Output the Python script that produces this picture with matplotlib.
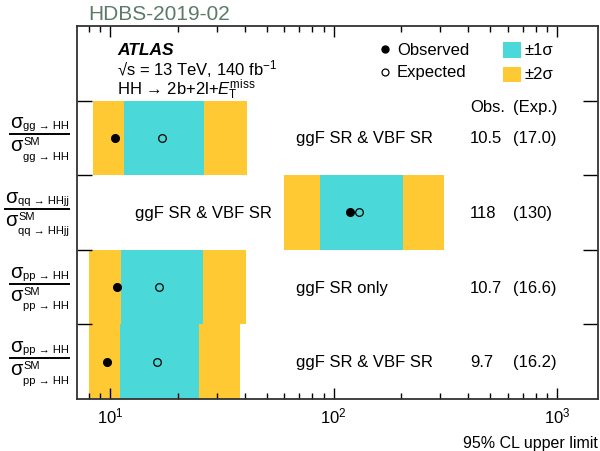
import numpy as np
import matplotlib
matplotlib.use("Agg")
import matplotlib.pyplot as plt
from matplotlib.patches import Rectangle
from matplotlib.transforms import blended_transform_factory, offset_copy

plt.rcParams['font.family'] = ['Liberation Sans', 'DejaVu Sans']
plt.rcParams['mathtext.fontset'] = 'custom'
plt.rcParams['mathtext.rm'] = 'Liberation Sans'
plt.rcParams['mathtext.it'] = 'Liberation Sans:italic'
plt.rcParams['mathtext.bf'] = 'Liberation Sans:bold'
plt.rcParams['mathtext.default'] = 'regular'

# rows from top to bottom
procs = ['gg → HH', 'qq → HHjj', 'pp → HH', 'pp → HH']
regions = ['ggF SR & VBF SR', 'ggF SR & VBF SR', 'ggF SR only', 'ggF SR & VBF SR']
obs = [10.5, 118, 10.7, 9.7]
exp = [17.0, 130, 16.6, 16.2]
obs_txt = ['10.5', '118', '10.7', '9.7']
exp_txt = ['(17.0)', '(130)', '(16.6)', '(16.2)']
m2 = [8.4, 60, 8.05, 8.05]
m1 = [11.5, 87, 11.2, 11.1]
p1 = [26.3, 205, 26.1, 25.0]
p2 = [41, 312, 40.5, 38.2]
ypos = [3.5, 2.5, 1.5, 0.5]

cyan = '#4ad8d8'
yellow = '#ffc933'
fs = 12

fig = plt.figure(figsize=(6, 4.52), dpi=100)
ax = fig.add_axes([77/600, 1-400/452, 521/600, 373/452])

for i in range(len(ypos)):
    ax.barh(ypos[i], p2[i]-m2[i], left=m2[i], height=1.0, color=yellow, lw=0, zorder=1)
    ax.barh(ypos[i], p1[i]-m1[i], left=m1[i], height=1.0, color=cyan, lw=0, zorder=1.1)
ax.plot(obs, ypos, 'o', color='k', ms=5.5, zorder=3)
ax.plot(exp, ypos, 'o', mfc='none', mec='k', mew=0.9, ms=5.5, zorder=3)

ax.set_xscale('log')
ax.set_xlim(7.1, 1520)
ax.set_ylim(0, 5)
ax.set_yticks([1, 2, 3, 4])
ax.set_yticklabels([])
ax.tick_params(axis='y', which='both', direction='in', left=True, right=True, length=11, width=1)
ax.tick_params(axis='x', which='major', direction='in', top=True, bottom=True, length=8, width=1, labelsize=fs, pad=5)
ax.tick_params(axis='x', which='minor', direction='in', top=True, bottom=True, length=4, width=1)
for s in ax.spines.values():
    s.set_linewidth(1.3)
    s.set_color('#333333')

ax.set_xlabel('95% CL upper limit', fontsize=11.5, loc='right', va='top')
ax.xaxis.set_label_coords(1.0, -0.097)

# row texts
tr = blended_transform_factory(ax.transAxes, ax.transData)
for i in range(len(ypos)):
    xr = 0.111 if i == 1 else 0.420
    ax.text(xr, ypos[i], regions[i], transform=tr, fontsize=fs, va='center', ha='left')
    ax.text(0.754, ypos[i], obs_txt[i], transform=tr, fontsize=fs, va='center', ha='left')
    ax.text(0.837, ypos[i], exp_txt[i], transform=tr, fontsize=fs, va='center', ha='left')
ax.text(0.754, 0.783, 'Obs.', transform=ax.transAxes, fontsize=fs, va='center')
ax.text(0.837, 0.783, '(Exp.)', transform=ax.transAxes, fontsize=fs, va='center')

# ATLAS label
ax.text(0.077, 0.925, 'ATLAS', transform=ax.transAxes, fontsize=12.5, fontweight='bold', style='italic')
ax.text(0.077, 0.871, '√s = 13 TeV, 140 fb$^{-1}$', transform=ax.transAxes, fontsize=fs)
ax.text(0.077, 0.818, r'HH → 2b+2l+$\mathit{E}_\mathrm{T}^\mathrm{miss}$', transform=ax.transAxes, fontsize=fs)

# legend
ax.plot([0.591], [0.938], 'o', color='k', ms=5, transform=ax.transAxes, clip_on=False)
ax.plot([0.591], [0.877], 'o', mfc='none', mec='k', mew=0.9, ms=5, transform=ax.transAxes, clip_on=False)
ax.text(0.614, 0.938, 'Observed', transform=ax.transAxes, fontsize=fs, va='center')
ax.text(0.614, 0.877, 'Expected', transform=ax.transAxes, fontsize=fs, va='center')
ax.add_patch(Rectangle((0.818, 0.914), 0.0345, 0.043, transform=ax.transAxes, color=cyan, lw=0))
ax.add_patch(Rectangle((0.818, 0.850), 0.0345, 0.040, transform=ax.transAxes, color=yellow, lw=0))
ax.text(0.858, 0.936, '±1σ', transform=ax.transAxes, fontsize=fs, va='center')
ax.text(0.858, 0.873, '±2σ', transform=ax.transAxes, fontsize=fs, va='center')

fig.text(88/600, 1-20/452, 'HDBS-2019-02', fontsize=15, color='#5b7b68', va='baseline')

# y-axis fraction labels
subs = []
for i in range(len(ypos)):
    kw = dict(xy=(0, ypos[i]), xycoords=('axes fraction', 'data'), textcoords='offset pixels',
              ha='right', va='baseline', fontsize=8, annotation_clip=False)
    a = ax.annotate(procs[i], xytext=(-8, 9.5), **kw)
    b = ax.annotate(procs[i], xytext=(-8, -21), **kw)
    subs.append((a, b))

fig.canvas.draw()
r = fig.canvas.get_renderer()
x_end = ax.transAxes.transform((0, 0))[0]
for i in range(len(ypos)):
    bb = subs[i][0].get_window_extent(r)
    dx = bb.x0 - x_end - 1
    kw = dict(xy=(0, ypos[i]), xycoords=('axes fraction', 'data'), textcoords='offset pixels',
              va='baseline', annotation_clip=False)
    s1 = ax.annotate('σ', xytext=(dx, 10.5), ha='right', fontsize=14.5, **kw)
    s2 = ax.annotate('σ', xytext=(dx, -12.5), ha='right', fontsize=14.5, **kw)
    ax.annotate('SM', xytext=(dx + 1, -6.5), ha='left', fontsize=8, **kw)
    sb = s1.get_window_extent(r)
    xl = ax.transAxes.inverted().transform((sb.x0, 0))[0]
    xr = ax.transAxes.inverted().transform((x_end - 8, 0))[0]
    trl = offset_copy(tr, fig=fig, x=0, y=3.5, units='dots')
    ax.plot([xl, xr], [ypos[i], ypos[i]], color='k', lw=1.4, transform=trl, clip_on=False)

fig.savefig('out.png', dpi=100)
